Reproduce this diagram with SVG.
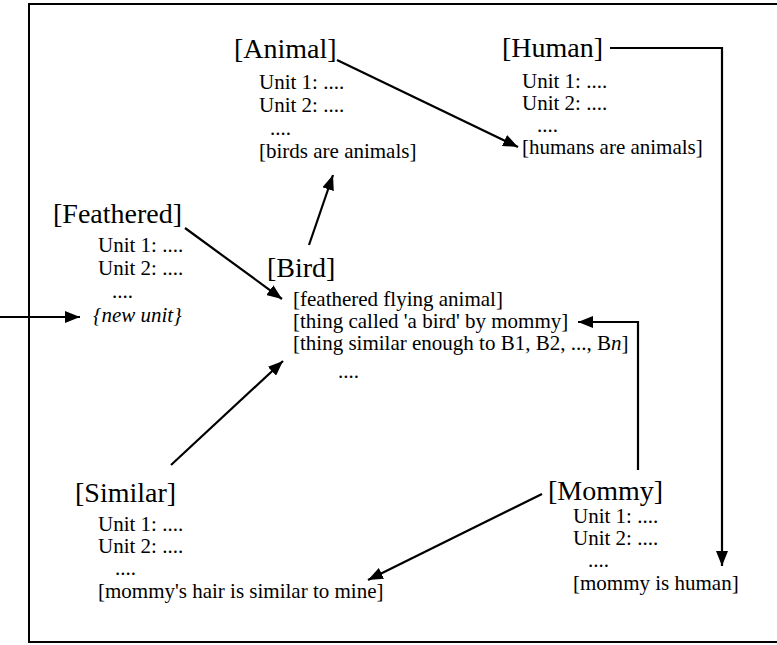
<svg xmlns="http://www.w3.org/2000/svg" width="777" height="645" viewBox="0 0 777 645">
<defs>
<style>
.h{font-family:"Liberation Serif","Times New Roman",serif;font-size:28px;fill:#000}
.t{font-family:"Liberation Serif","Times New Roman",serif;font-size:21px;fill:#000}
.i{font-style:italic}
.c{fill:none;stroke:#000;stroke-width:2.2}
.f{fill:none;stroke:#000;stroke-width:2}
</style>
<marker id="ah" markerWidth="16" markerHeight="12" refX="15" refY="6" orient="auto" markerUnits="userSpaceOnUse">
<path d="M0,0 L15,6 L0,12 Z" fill="#000"/>
</marker>
</defs>
<rect width="777" height="645" fill="#fff"/>
<g id="frame">
<path class="f" d="M777,4 H29 V642 H777"/>
</g>
<g id="connectors">
<line class="c" x1="337" y1="60" x2="518" y2="147" marker-end="url(#ah)"/>
<line class="c" x1="309" y1="245" x2="333" y2="175" marker-end="url(#ah)"/>
<line class="c" x1="185" y1="228" x2="282" y2="299" marker-end="url(#ah)"/>
<line class="c" x1="171" y1="465" x2="283" y2="361" marker-end="url(#ah)"/>
<line class="c" x1="0" y1="317" x2="80" y2="317" marker-end="url(#ah)"/>
<polyline class="c" points="610,48 722,48 722,566" marker-end="url(#ah)"/>
<polyline class="c" points="638,470 638,322 578,322" marker-end="url(#ah)"/>
<line class="c" x1="542" y1="494" x2="368" y2="580" marker-end="url(#ah)"/>
</g>
<g id="animal">
<text class="h" x="234" y="58">[Animal]</text>
<text class="t" x="259" y="89">Unit 1: ....</text>
<text class="t" x="259" y="112">Unit 2: ....</text>
<text class="t" x="270" y="135">....</text>
<text class="t" x="259" y="158">[birds are animals]</text>
</g>
<g id="human">
<text class="h" x="502" y="57">[Human]</text>
<text class="t" x="522" y="88">Unit 1: ....</text>
<text class="t" x="522" y="110">Unit 2: ....</text>
<text class="t" x="537" y="132">....</text>
<text class="t" x="522" y="154">[humans are animals]</text>
</g>
<g id="feathered">
<text class="h" x="53" y="223">[Feathered]</text>
<text class="t" x="98" y="252">Unit 1: ....</text>
<text class="t" x="98" y="275">Unit 2: ....</text>
<text class="t" x="112" y="298">....</text>
<text class="t i" x="93" y="322">{new unit}</text>
</g>
<g id="bird">
<text class="h" x="267" y="277">[Bird]</text>
<text class="t" x="293" y="306">[feathered flying animal]</text>
<text class="t" x="293" y="328">[thing called 'a bird' by mommy]</text>
<text class="t" x="293" y="350">[thing similar enough to B1, B2, ..., B<tspan class="i">n</tspan>]</text>
<text class="t" x="338" y="378">....</text>
</g>
<g id="similar">
<text class="h" x="75" y="502">[Similar]</text>
<text class="t" x="98" y="531">Unit 1: ....</text>
<text class="t" x="98" y="553">Unit 2: ....</text>
<text class="t" x="115" y="575">....</text>
<text class="t" x="98" y="598">[mommy's hair is similar to mine]</text>
</g>
<g id="mommy">
<text class="h" x="548" y="500">[Mommy]</text>
<text class="t" x="573" y="523">Unit 1: ....</text>
<text class="t" x="573" y="545">Unit 2: ....</text>
<text class="t" x="588" y="567">....</text>
<text class="t" x="573" y="590">[mommy is human]</text>
</g>
</svg>
